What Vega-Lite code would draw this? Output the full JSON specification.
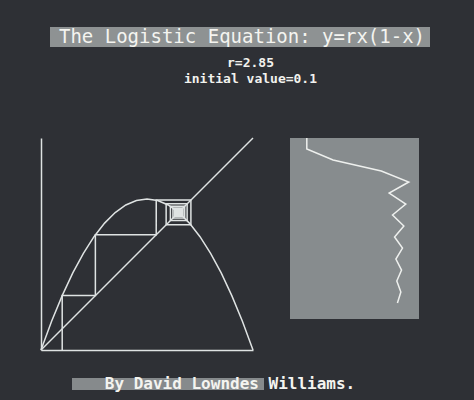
{
  "$schema": "https://vega.github.io/schema/vega-lite/v6.json",
  "background": "#2e3035",
  "padding": {"left": 38, "top": 27, "right": 47, "bottom": 11},
  "config": {
    "view": {"stroke": null},
    "font": "DejaVu Sans Mono",
    "axis": {"domain": true, "domainColor": "#dfe3e3", "domainWidth": 1.5, "ticks": false, "labels": false, "grid": false, "title": null},
    "concat": {"spacing": 0}
  },
  "datasets": {
    "heading": [{"label": "The Logistic Equation: y=rx(1-x)"}],
    "footer": [{"label": "By David Lowndes Williams."}],
    "diag": [{"x": 0, "y": 0}, {"x": 1, "y": 1}],
    "parabola": [
      {"x": 0, "y": 0}, {"x": 0.05, "y": 0.1354}, {"x": 0.1, "y": 0.2565}, {"x": 0.15, "y": 0.3634},
      {"x": 0.2, "y": 0.456}, {"x": 0.25, "y": 0.5344}, {"x": 0.3, "y": 0.5985}, {"x": 0.35, "y": 0.6484},
      {"x": 0.4, "y": 0.684}, {"x": 0.45, "y": 0.7054}, {"x": 0.5, "y": 0.7125}, {"x": 0.55, "y": 0.7054},
      {"x": 0.6, "y": 0.684}, {"x": 0.65, "y": 0.6484}, {"x": 0.7, "y": 0.5985}, {"x": 0.75, "y": 0.5344},
      {"x": 0.8, "y": 0.456}, {"x": 0.85, "y": 0.3634}, {"x": 0.9, "y": 0.2565}, {"x": 0.95, "y": 0.1354},
      {"x": 1, "y": 0}
    ],
    "cobweb": [
      {"i": 0, "x": 0.1, "y": 0}, {"i": 1, "x": 0.1, "y": 0.2565}, {"i": 2, "x": 0.2565, "y": 0.2565},
      {"i": 3, "x": 0.2565, "y": 0.5435}, {"i": 4, "x": 0.5435, "y": 0.5435}, {"i": 5, "x": 0.5435, "y": 0.7071},
      {"i": 6, "x": 0.7071, "y": 0.7071}, {"i": 7, "x": 0.7071, "y": 0.5903}, {"i": 8, "x": 0.5903, "y": 0.5903},
      {"i": 9, "x": 0.5903, "y": 0.6893}, {"i": 10, "x": 0.6893, "y": 0.6893}, {"i": 11, "x": 0.6893, "y": 0.6104},
      {"i": 12, "x": 0.6104, "y": 0.6104}, {"i": 13, "x": 0.6104, "y": 0.6778}, {"i": 14, "x": 0.6778, "y": 0.6778},
      {"i": 15, "x": 0.6778, "y": 0.6224}, {"i": 16, "x": 0.6224, "y": 0.6224}, {"i": 17, "x": 0.6224, "y": 0.6698},
      {"i": 18, "x": 0.6698, "y": 0.6698}, {"i": 19, "x": 0.6698, "y": 0.6304}, {"i": 20, "x": 0.6304, "y": 0.6304},
      {"i": 21, "x": 0.6304, "y": 0.6641}, {"i": 22, "x": 0.6641, "y": 0.6641}, {"i": 23, "x": 0.6641, "y": 0.6358},
      {"i": 24, "x": 0.6358, "y": 0.6358}, {"i": 25, "x": 0.6358, "y": 0.66}, {"i": 26, "x": 0.66, "y": 0.66},
      {"i": 27, "x": 0.66, "y": 0.6396}, {"i": 28, "x": 0.6396, "y": 0.6396}, {"i": 29, "x": 0.6396, "y": 0.657},
      {"i": 30, "x": 0.657, "y": 0.657}, {"i": 31, "x": 0.657, "y": 0.6423}, {"i": 32, "x": 0.6423, "y": 0.6423},
      {"i": 33, "x": 0.6423, "y": 0.6548}, {"i": 34, "x": 0.6548, "y": 0.6548}, {"i": 35, "x": 0.6548, "y": 0.6442},
      {"i": 36, "x": 0.6442, "y": 0.6442}, {"i": 37, "x": 0.6442, "y": 0.6532}, {"i": 38, "x": 0.6532, "y": 0.6532},
      {"i": 39, "x": 0.6532, "y": 0.6456}, {"i": 40, "x": 0.6456, "y": 0.6456}
    ],
    "series": [
      {"step": 0, "value": 0.1}, {"step": 1, "value": 0.1}, {"step": 2, "value": 0.2565}, {"step": 3, "value": 0.5435},
      {"step": 4, "value": 0.7071}, {"step": 5, "value": 0.5903}, {"step": 6, "value": 0.6893}, {"step": 7, "value": 0.6104},
      {"step": 8, "value": 0.6778}, {"step": 9, "value": 0.6224}, {"step": 10, "value": 0.6698}, {"step": 11, "value": 0.6304},
      {"step": 12, "value": 0.6641}, {"step": 13, "value": 0.6358}, {"step": 14, "value": 0.66}, {"step": 15, "value": 0.6396}
    ]
  },
  "spacing": 10,
  "vconcat": [
    {
      "spacing": 8,
      "hconcat": [
        {"width": 1, "height": 1, "data": {"values": []}, "mark": "point", "encoding": {}},
        {
          "width": 380, "height": 20,
          "view": {"fill": "#8e9293", "stroke": null},
          "data": {"name": "heading"},
          "mark": {"type": "text", "fontSize": 19, "font": "DejaVu Sans Mono", "color": "#f4f4f0", "dx": 2},
          "encoding": {
            "text": {"field": "label"},
            "x": {"field": "label", "type": "nominal", "axis": null},
            "y": {"field": "label", "type": "nominal", "axis": null}
          }
        }
      ]
    },
    {
      "title": {
        "text": ["r=2.85", "initial value=0.1"],
        "font": "DejaVu Sans Mono", "fontSize": 13, "fontWeight": "bold", "color": "#f2f2ee",
        "anchor": "middle", "dx": 22, "offset": 49, "lineHeight": 16
      },
      "spacing": 34,
      "hconcat": [
        {
          "width": 212, "height": 212,
          "layer": [
            {
              "data": {"name": "diag"},
              "mark": {"type": "line", "color": "#dfe3e3", "strokeWidth": 1.5},
              "encoding": {
                "x": {"field": "x", "type": "quantitative", "scale": {"domain": [0, 1]}},
                "y": {"field": "y", "type": "quantitative", "scale": {"domain": [0, 1]}}
              }
            },
            {
              "data": {"name": "parabola"},
              "mark": {"type": "line", "color": "#dfe3e3", "strokeWidth": 1.5},
              "encoding": {
                "x": {"field": "x", "type": "quantitative"},
                "y": {"field": "y", "type": "quantitative"}
              }
            },
            {
              "data": {"name": "cobweb"},
              "mark": {"type": "line", "color": "#dfe3e3", "strokeWidth": 1.5},
              "encoding": {
                "x": {"field": "x", "type": "quantitative"},
                "y": {"field": "y", "type": "quantitative"},
                "order": {"field": "i", "type": "quantitative"}
              }
            }
          ]
        },
        {
          "width": 129, "height": 181,
          "view": {"fill": "#878c8e", "stroke": null},
          "data": {"name": "series"},
          "mark": {"type": "line", "color": "#eef0ee", "strokeWidth": 1.5},
          "encoding": {
            "x": {"field": "value", "type": "quantitative", "scale": {"domain": [0, 0.768]}, "axis": null},
            "y": {"field": "step", "type": "quantitative", "scale": {"domain": [0, 16.45], "reverse": true}, "axis": null},
            "order": {"field": "step", "type": "quantitative"}
          }
        }
      ]
    },
    {"width": 1, "height": 3, "data": {"values": []}, "mark": "point", "encoding": {}},
    {
      "spacing": 30,
      "hconcat": [
        {"width": 1, "height": 1, "data": {"values": []}, "mark": "point", "encoding": {}},
        {
          "width": 192, "height": 12,
          "view": {"fill": "#868a8c", "stroke": null},
          "data": {"name": "footer"},
          "mark": {"type": "text", "fontSize": 16, "fontWeight": "bold", "font": "DejaVu Sans Mono", "color": "#f4f4f0", "dx": 62},
          "encoding": {
            "text": {"field": "label"},
            "x": {"field": "label", "type": "nominal", "axis": null},
            "y": {"field": "label", "type": "nominal", "axis": null}
          }
        }
      ]
    }
  ]
}
